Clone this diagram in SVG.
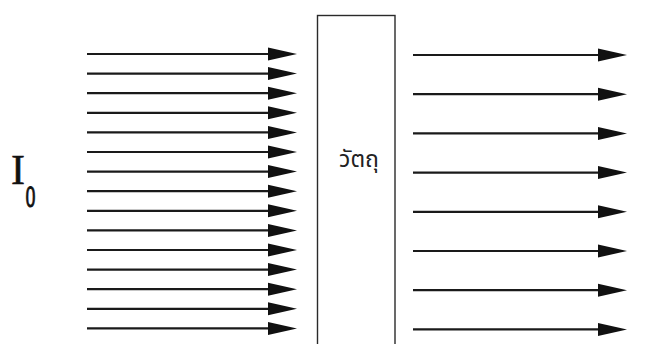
<svg xmlns="http://www.w3.org/2000/svg" width="669" height="344" viewBox="0 0 669 344">
  <style>
    .ray { stroke: #1a1a1a; stroke-width: 2.2; fill: none; marker-end: url(#head); }
    .box { fill: #ffffff; stroke: #2a2a2a; stroke-width: 1.4; }
    .lbl { font-family: "Liberation Serif", "Times New Roman", serif; fill: #111; stroke: #111; stroke-width: 0.5; }
    .thai { font-family: "Noto Sans Thai", "Noto Sans", "DejaVu Sans", sans-serif; font-size: 23px; fill: #222; }
  </style>
  <defs>
    <marker id="head" markerUnits="userSpaceOnUse" markerWidth="30" markerHeight="14" viewBox="0 -7 30 14" refX="0" refY="0" orient="auto">
      <path d="M0,-6.5 L29,0 L0,6.5 Z" fill="#111"/>
    </marker>
  </defs>
  <rect width="669" height="344" fill="#ffffff"/>

  <g id="object">
    <rect class="box" x="317.5" y="15.5" width="77.5" height="340"/>
    <text class="thai" x="359" y="167" text-anchor="middle">วัตถุ</text>
  </g>

  <g id="label-I0">
    <text class="lbl" x="11" y="183.5" font-size="42">I</text>
    <text class="lbl" x="25.5" y="207.5" font-size="20" transform="translate(0,207.5) scale(1,2.2) translate(0,-207.5)">o</text>
  </g>

  <g id="connectors">
    <line class="ray" x1="87" y1="54" x2="268" y2="54"/>
    <line class="ray" x1="87" y1="73.6" x2="268" y2="73.6"/>
    <line class="ray" x1="87" y1="93.2" x2="268" y2="93.2"/>
    <line class="ray" x1="87" y1="112.8" x2="268" y2="112.8"/>
    <line class="ray" x1="87" y1="132.4" x2="268" y2="132.4"/>
    <line class="ray" x1="87" y1="152" x2="268" y2="152"/>
    <line class="ray" x1="87" y1="171.6" x2="268" y2="171.6"/>
    <line class="ray" x1="87" y1="191.2" x2="268" y2="191.2"/>
    <line class="ray" x1="87" y1="210.8" x2="268" y2="210.8"/>
    <line class="ray" x1="87" y1="230.4" x2="268" y2="230.4"/>
    <line class="ray" x1="87" y1="250" x2="268" y2="250"/>
    <line class="ray" x1="87" y1="269.6" x2="268" y2="269.6"/>
    <line class="ray" x1="87" y1="289.2" x2="268" y2="289.2"/>
    <line class="ray" x1="87" y1="308.8" x2="268" y2="308.8"/>
    <line class="ray" x1="87" y1="328.4" x2="268" y2="328.4"/>

    <line class="ray" x1="413" y1="55" x2="598" y2="55"/>
    <line class="ray" x1="413" y1="94.2" x2="598" y2="94.2"/>
    <line class="ray" x1="413" y1="133.4" x2="598" y2="133.4"/>
    <line class="ray" x1="413" y1="172.6" x2="598" y2="172.6"/>
    <line class="ray" x1="413" y1="211.8" x2="598" y2="211.8"/>
    <line class="ray" x1="413" y1="251" x2="598" y2="251"/>
    <line class="ray" x1="413" y1="290.2" x2="598" y2="290.2"/>
    <line class="ray" x1="413" y1="329.4" x2="598" y2="329.4"/>
  </g>
</svg>
